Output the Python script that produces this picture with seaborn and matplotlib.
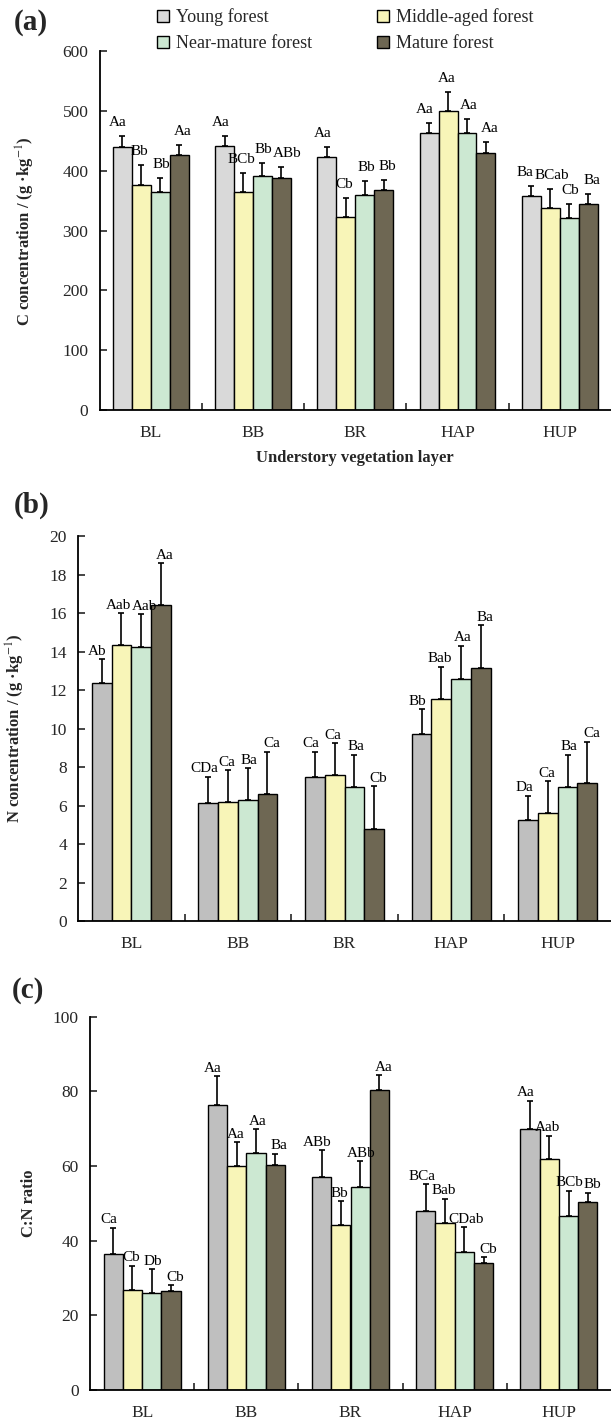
import pandas as pd
import matplotlib.pyplot as plt
import seaborn as sns
from matplotlib.patches import Patch

# categories / groups
layers = ["BL", "BB", "BR", "HAP", "HUP"]
stages = ["Young forest", "Middle-aged forest", "Near-mature forest", "Mature forest"]

# (a) C concentration
c_young = [440, 441, 423, 463, 358]
c_middle = [377, 365, 323, 501, 338]
c_near = [365, 392, 359, 463, 321]
c_mature = [427, 389, 368, 430, 345]
c_young_sd = [18, 18, 17, 18, 17]
c_middle_sd = [33, 32, 32, 32, 32]
c_near_sd = [23, 22, 24, 24, 24]
c_mature_sd = [17, 18, 17, 18, 17]
c_letters = [["Aa", "Aa", "Aa", "Aa", "Ba"],
             ["Bb", "BCb", "Cb", "Aa", "BCab"],
             ["Bb", "Bb", "Bb", "Aa", "Cb"],
             ["Aa", "ABb", "Bb", "Aa", "Ba"]]

# (b) N concentration
n_young = [12.35, 6.13, 7.49, 9.72, 5.23]
n_middle = [14.35, 6.17, 7.57, 11.54, 5.60]
n_near = [14.25, 6.29, 6.95, 12.60, 6.95]
n_mature = [16.43, 6.62, 4.77, 13.14, 7.16]
n_young_sd = [1.25, 1.36, 1.31, 1.28, 1.29]
n_middle_sd = [1.65, 1.68, 1.67, 1.68, 1.68]
n_near_sd = [1.68, 1.66, 1.70, 1.70, 1.70]
n_mature_sd = [2.17, 2.18, 2.25, 2.23, 2.16]
n_letters = [["Ab", "CDa", "Ca", "Bb", "Da"],
             ["Aab", "Ca", "Ca", "Bab", "Ca"],
             ["Aab", "Ba", "Ba", "Aa", "Ba"],
             ["Aa", "Ca", "Cb", "Ba", "Ca"]]

# (c) C:N ratio
r_young = [36.4, 76.4, 57.05, 48.0, 69.9]
r_middle = [26.9, 60.0, 44.2, 44.8, 61.8]
r_near = [25.9, 63.5, 54.3, 37.05, 46.7]
r_mature = [26.5, 60.3, 80.4, 33.9, 50.4]
r_young_sd = [7.1, 7.6, 7.25, 7.1, 7.6]
r_middle_sd = [6.4, 6.4, 6.4, 6.5, 6.3]
r_near_sd = [6.5, 6.4, 7.0, 6.55, 6.7]
r_mature_sd = [1.5, 3.0, 4.0, 1.6, 2.5]
r_letters = [["Ca", "Aa", "ABb", "BCa", "Aa"],
             ["Cb", "Aa", "Bb", "Bab", "Aab"],
             ["Db", "Aa", "ABb", "CDab", "BCb"],
             ["Cb", "Ba", "Aa", "Cb", "Bb"]]

yellow, green, brown = "#f8f5b8", "#cce8d2", "#6e6753"

sns.set_theme(style="ticks")
plt.rcParams["font.family"] = ["Liberation Serif", "DejaVu Serif"]
plt.rcParams["mathtext.fontset"] = "stix"

fig = plt.figure(figsize=(6.11, 14.22), dpi=100)
all_groups = []


def panel(rect, vals, sds, letters, young_col, ylim, step, ylabel, ylab_x, lift):
    ax = fig.add_axes(rect)
    df = pd.DataFrame({"layer": layers * 4,
                       "stage": [s for s in stages for _ in layers],
                       "value": [v for series in vals for v in series]})
    sns.barplot(data=df, x="layer", y="value", hue="stage", order=layers, hue_order=stages,
                palette=[young_col, yellow, green, brown], saturation=1, width=0.74,
                edgecolor="black", linewidth=1.0, errorbar=None, legend=False, ax=ax)
    bars = list(ax.containers)
    groups = [[] for _ in layers]
    for k, cont in enumerate(bars):
        for j, bar in enumerate(cont):
            x = bar.get_x() + bar.get_width() / 2
            v = vals[k][j]
            ax.errorbar(x, v, yerr=[[0], [sds[k][j]]], fmt="none", ecolor="black",
                        elinewidth=1.2, capsize=2.5, capthick=1.2, zorder=3)
            dx = [-3, -1, 1, 3][k]
            ann = ax.annotate(letters[k][j], (x, v + sds[k][j]), xytext=(dx, lift),
                              textcoords="offset points", ha="center", va="bottom",
                              fontsize=11, color="black")
            groups[j].append(ann)
    all_groups.extend(groups)
    ax.set_xlim(-0.5, 4.5)
    ax.set_ylim(*ylim)
    ax.set_yticks(range(ylim[0], ylim[1] + 1, step))
    ax.set_xticks([0.5, 1.5, 2.5, 3.5], minor=True)
    ax.tick_params(axis="x", which="major", length=0, pad=11, labelsize=12.5)
    ax.tick_params(axis="x", which="minor", direction="in", length=5, width=1.2)
    ax.tick_params(axis="y", direction="in", length=5, width=1.2, pad=8, labelsize=12.5)
    for sp in ["top", "right"]:
        ax.spines[sp].set_visible(False)
    for sp in ["left", "bottom"]:
        ax.spines[sp].set_linewidth(1.3)
        ax.spines[sp].set_color("black")
    ax.set_xlabel("")
    ax.set_ylabel(ylabel, fontsize=12, fontweight="bold")
    ax.yaxis.set_label_coords(ylab_x, 0.5)
    return ax


ax_a = panel([99.5 / 611, 0.7117, 511.5 / 611, 0.2521],
             [c_young, c_middle, c_near, c_mature],
             [c_young_sd, c_middle_sd, c_near_sd, c_mature_sd],
             c_letters, "#d9d9d9", (0, 600), 100,
             "C concentration / (g ·kg$^{-1}$)", -0.122, 5)
ax_a.set_xlabel("Understory vegetation layer", fontsize=12, fontweight="bold", labelpad=6)

ax_b = panel([78 / 611, 0.3523, 533 / 611, 0.2707],
             [n_young, n_middle, n_near, n_mature],
             [n_young_sd, n_middle_sd, n_near_sd, n_mature_sd],
             n_letters, "#bfbfbf", (0, 20), 2,
             "N concentration / (g ·kg$^{-1}$)", -0.096, 1)

ax_c = panel([90 / 611, 0.0225, 521 / 611, 0.2625],
             [r_young, r_middle, r_near, r_mature],
             [r_young_sd, r_middle_sd, r_near_sd, r_mature_sd],
             r_letters, "#bfbfbf", (0, 100), 20,
             "C:N ratio", -0.102, 1)

fig.text(14 / 611, 1 - 22 / 1422, "(a)", fontsize=21, fontweight="bold", va="center")
fig.text(14 / 611, 1 - 505 / 1422, "(b)", fontsize=21, fontweight="bold", va="center")
fig.text(12 / 611, 1 - 990 / 1422, "(c)", fontsize=21, fontweight="bold", va="center")

legend_cols = ["#d9d9d9", yellow, green, brown]
handles = [Patch(facecolor=legend_cols[i], edgecolor="black", linewidth=1.0) for i in [0, 2, 1, 3]]
labels = [stages[i] for i in [0, 2, 1, 3]]
fig.legend(handles, labels, loc="upper left", bbox_to_anchor=(150 / 611, 1 - 1 / 1422),
           ncol=2, frameon=False, fontsize=13, handlelength=0.65, handleheight=0.65,
           handletextpad=0.4, columnspacing=3.6, labelspacing=0.5, borderaxespad=0)

# push apart neighbouring letters that still collide
renderer = fig.canvas.get_renderer()
pt = 72 / fig.dpi
for grp in all_groups:
    for a, b in zip(grp[:-1], grp[1:]):
        ba, bb = a.get_window_extent(renderer), b.get_window_extent(renderer)
        if ba.x1 > bb.x0 and ba.y1 > bb.y0 and bb.y1 > ba.y0:
            shift = (ba.x1 - bb.x0 + 1) / 2 * pt
            a.xyann = (a.xyann[0] - shift, a.xyann[1])
            b.xyann = (b.xyann[0] + shift, b.xyann[1])

fig.savefig("out.png", dpi=100)
